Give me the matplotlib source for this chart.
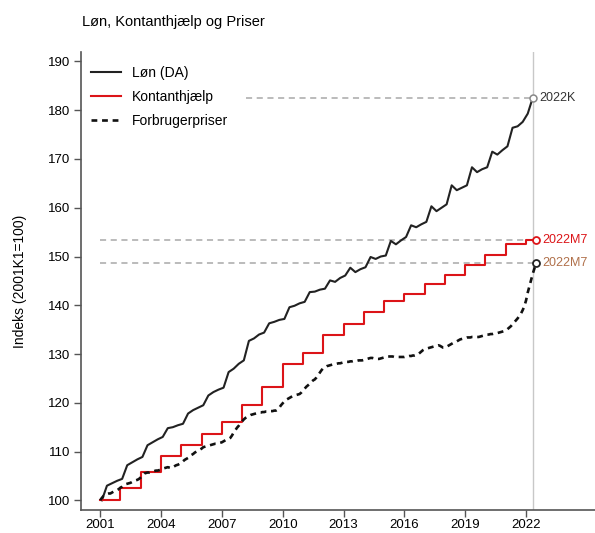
import matplotlib
matplotlib.use("Agg")
import matplotlib.pyplot as plt
import numpy as np

plt.rcParams['font.family'] = ['Liberation Sans', 'DejaVu Sans']

# ---------------- data ----------------
years = list(range(2001, 2023))

# Løn (DA), quarterly index 2001K1=100 (Q1..Q4 per year)
loen_q = [
    [100.0, 103.0, 103.5, 104.0],   # 2001
    [104.4, 107.2, 107.8, 108.4],   # 2002
    [108.9, 111.3, 111.9, 112.5],   # 2003
    [113.0, 114.8, 115.0, 115.4],   # 2004
    [115.7, 117.8, 118.5, 119.0],   # 2005
    [119.5, 121.5, 122.2, 122.7],   # 2006
    [123.1, 126.3, 127.0, 128.0],   # 2007
    [128.7, 132.7, 133.2, 134.0],   # 2008
    [134.4, 136.3, 136.6, 137.0],   # 2009
    [137.2, 139.6, 139.9, 140.4],   # 2010
    [140.7, 142.7, 142.8, 143.2],   # 2011
    [143.4, 145.1, 144.8, 145.6],   # 2012
    [146.1, 147.7, 146.8, 147.4],   # 2013
    [147.8, 149.9, 149.5, 150.0],   # 2014
    [150.2, 153.2, 152.5, 153.3],   # 2015
    [154.0, 156.4, 156.0, 156.6],   # 2016
    [157.1, 160.3, 159.3, 160.0],   # 2017
    [160.7, 164.6, 163.6, 164.1],   # 2018
    [164.6, 168.3, 167.3, 167.9],   # 2019
    [168.3, 171.5, 170.9, 171.8],   # 2020
    [172.6, 176.4, 176.7, 177.6],   # 2021
    [179.3, 182.6],                 # 2022
]

# Kontanthjælp, annual level (adjusted each January), last obs 2022M7
kontant_levels = [100.0, 102.6, 105.9, 109.1, 111.3, 113.5, 116.0, 119.5,
                  123.2, 128.0, 130.3, 134.0, 136.1, 138.6, 140.8, 142.4,
                  144.4, 146.3, 148.2, 150.4, 152.6, 153.3]

# Forbrugerpriser, monthly index (M1..M12 per year), last obs 2022M7
priser_m = [
    [100.0, 100.5, 100.9, 101.1, 101.3, 101.4, 101.4, 101.6, 101.8, 102.0, 102.1, 102.3],
    [102.6, 102.8, 103.1, 103.3, 103.4, 103.5, 103.6, 103.8, 103.9, 104.1, 104.2, 104.4],
    [104.7, 105.1, 105.5, 105.6, 105.7, 105.7, 105.8, 105.9, 106.0, 106.1, 106.1, 106.2],
    [106.3, 106.5, 106.6, 106.7, 106.8, 106.7, 106.6, 106.8, 107.0, 107.2, 107.3, 107.5],
    [107.7, 108.0, 108.3, 108.5, 108.7, 109.0, 109.3, 109.5, 109.8, 110.0, 110.2, 110.4],
    [110.6, 110.9, 111.0, 111.1, 111.2, 111.3, 111.4, 111.5, 111.6, 111.6, 111.7, 111.8],
    [111.9, 112.1, 112.3, 112.5, 112.6, 112.8, 113.3, 113.9, 114.4, 114.9, 115.3, 115.8],
    [116.2, 116.6, 116.9, 117.1, 117.3, 117.5, 117.6, 117.7, 117.8, 117.9, 118.0, 118.0],
    [118.1, 118.1, 118.2, 118.2, 118.3, 118.3, 118.3, 118.4, 118.4, 118.6, 119.0, 119.5],
    [119.9, 120.3, 120.6, 120.8, 121.0, 121.2, 121.4, 121.5, 121.6, 121.7, 121.8, 122.1],
    [122.5, 122.9, 123.3, 123.6, 123.9, 124.3, 124.6, 124.8, 125.2, 125.7, 126.2, 126.7],
    [127.1, 127.3, 127.5, 127.6, 127.7, 127.8, 127.9, 128.0, 128.0, 128.1, 128.1, 128.2],
    [128.3, 128.3, 128.4, 128.4, 128.5, 128.5, 128.6, 128.6, 128.6, 128.7, 128.7, 128.7],
    [128.8, 128.8, 129.0, 129.1, 129.2, 129.2, 129.1, 129.0, 129.0, 129.0, 129.1, 129.2],
    [129.3, 129.4, 129.5, 129.5, 129.5, 129.5, 129.4, 129.4, 129.4, 129.4, 129.4, 129.4],
    [129.4, 129.5, 129.5, 129.6, 129.6, 129.7, 129.7, 129.8, 129.9, 130.2, 130.5, 130.8],
    [131.0, 131.1, 131.2, 131.3, 131.4, 131.5, 131.6, 131.7, 131.8, 131.7, 131.5, 131.3],
    [131.3, 131.5, 131.7, 131.9, 132.1, 132.3, 132.5, 132.6, 132.8, 133.0, 133.1, 133.2],
    [133.3, 133.4, 133.4, 133.4, 133.5, 133.5, 133.5, 133.5, 133.5, 133.6, 133.7, 133.8],
    [133.9, 134.0, 134.0, 134.1, 134.1, 134.2, 134.2, 134.3, 134.4, 134.5, 134.6, 134.7],
    [134.9, 135.1, 135.4, 135.7, 136.1, 136.5, 136.9, 137.3, 137.8, 138.3, 139.0, 139.8],
    [141.0, 142.6, 143.9, 145.2, 146.5, 147.6, 148.7],
]

title = "Løn, Kontanthjælp og Priser"
ylabel = "Indeks (2001K1=100)"
series_names = ["Løn (DA)", "Kontanthjælp", "Forbrugerpriser"]
end_labels = ["2022K", "2022M7", "2022M7"]
xticks = list(range(2001, 2023, 3))
yticks = list(range(100, 191, 10))

# ---------------- build x positions ----------------
loen_x, loen_y = [], []
for yr, vals in zip(years, loen_q):
    for q, v in enumerate(vals):
        loen_x.append(yr + q / 4 + 1 / 12)
        loen_y.append(v)

pr_x, pr_y = [], []
for yr, vals in zip(years, priser_m):
    for m, v in enumerate(vals):
        pr_x.append(yr + m / 12)
        pr_y.append(v)

k_x = list(years) + [2022.5]
k_y = list(kontant_levels) + [kontant_levels[-1]]

# ---------------- plot ----------------
fig = plt.figure(figsize=(5.95, 5.33), dpi=100)
ax = fig.add_axes([0.136, 0.043, 0.864, 0.860])

grey_dash = '#a8a8a8'
red = '#dc1418'
ax.axvline(2022.36, color='#c8c8c8', lw=1.0, zorder=1)

# horizontal reference lines
ax.plot([2008.2, loen_x[-1]], [loen_y[-1]] * 2, color=grey_dash, lw=1.1,
        dashes=(4, 3), zorder=1)
ax.plot([2001.0, k_x[-1]], [k_y[-1]] * 2, color=grey_dash, lw=1.1,
        dashes=(4, 3), zorder=1)
ax.plot([2001.0, pr_x[-1]], [pr_y[-1]] * 2, color=grey_dash, lw=1.1,
        dashes=(4, 3), zorder=1)

ax.plot(loen_x, loen_y, color='#222222', lw=1.5, label=series_names[0], zorder=3)
ax.step(k_x, k_y, where='post', color=red, lw=1.5, label=series_names[1], zorder=3)
ax.plot(pr_x, pr_y, color='#111111', lw=1.9, dashes=(2.2, 1.8),
        label=series_names[2], zorder=3)

# end markers
ax.plot(loen_x[-1], loen_y[-1], 'o', ms=5, mfc='white', mec='#888888', mew=1.1, zorder=4)
ax.plot(k_x[-1], k_y[-1], 'o', ms=5, mfc='white', mec=red, mew=1.3, zorder=4)
ax.plot(pr_x[-1], pr_y[-1], 'o', ms=5, mfc='white', mec='#222222', mew=1.3, zorder=4)

ax.text(loen_x[-1] + 0.3, loen_y[-1], end_labels[0], color='#333333',
        fontsize=9, va='center', ha='left')
ax.text(k_x[-1] + 0.3, k_y[-1], end_labels[1], color=red,
        fontsize=9, va='center', ha='left')
ax.text(pr_x[-1] + 0.3, pr_y[-1], end_labels[2], color='#b0704a',
        fontsize=9, va='center', ha='left')

ax.set_xlim(2000.05, 2025.4)
ax.set_ylim(98, 192)
ax.set_xticks(xticks)
ax.set_yticks(yticks)
ax.tick_params(axis='both', labelsize=9.5, length=5, width=1, color='#555555',
               direction='out')
ax.tick_params(axis='x', pad=1.5)
ax.tick_params(axis='y', pad=2.5)
for s in ['top', 'right']:
    ax.spines[s].set_visible(False)
for s in ['left', 'bottom']:
    ax.spines[s].set_color('#555555')
    ax.spines[s].set_linewidth(1.2)

ax.set_ylabel(ylabel, fontsize=10)
ax.yaxis.set_label_coords(-0.105, 0.5)

fig.text(0.138, 0.958, title, fontsize=10.5, ha='left', va='center')

leg = ax.legend(loc='upper left', bbox_to_anchor=(0.0, 0.99), frameon=False,
                fontsize=10, handlelength=2.2, handletextpad=0.8,
                borderaxespad=0.3, labelspacing=0.72)

fig.savefig('out.png', dpi=100)
